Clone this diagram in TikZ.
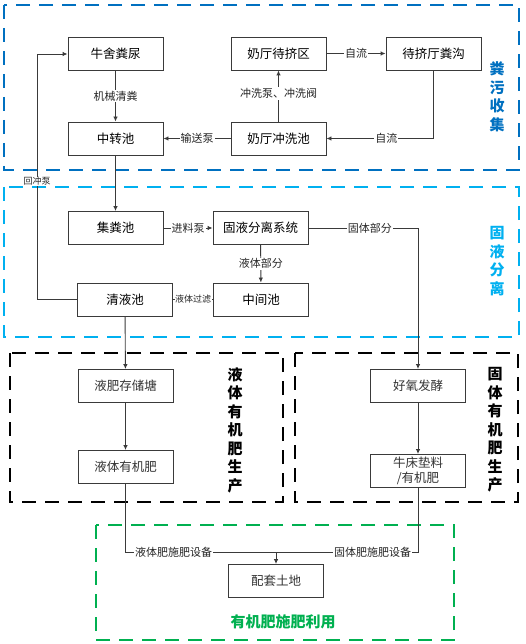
\documentclass[tikz,border=0pt]{standalone}
\usepackage{fontspec}
\setmainfont{Noto Sans CJK SC}
\usetikzlibrary{arrows.meta}
\definecolor{secblue}{HTML}{0070C0}
\definecolor{seccyan}{HTML}{00B0F0}
\definecolor{secgreen}{HTML}{00B050}
\definecolor{linegray}{HTML}{3A3A3A}
\begin{document}
\begin{tikzpicture}[x=1pt,y=-1pt,
  box/.style={draw=linegray, line width=0.9pt, minimum width=95pt, minimum height=33pt, inner sep=0pt, font=\fontsize{12.5}{14}\selectfont},
  lbox/.style={box, text=black!80},
  lbl/.style={fill=white, inner sep=1pt, font=\fontsize{11}{12}\selectfont, text=black!85},
  slbl/.style={fill=white, inner sep=0.5pt, font=\fontsize{9}{10}\selectfont, text=black!85},
  conn/.style={draw=linegray, line width=0.9pt},
  arr/.style={conn, -{Latex[length=5pt,width=4.5pt]}},
  sec/.style={line width=2.6pt, dash pattern=on 14pt off 9pt},
  vlbl/.style={align=center, inner sep=0pt, font=\fontsize{15}{18.5}\selectfont\bfseries}
]
\useasboundingbox (0,0) rectangle (525,644);

% section frames
\draw[sec, secblue] (4,5) rectangle (519,170);
\draw[sec, seccyan] (4,187) rectangle (519,337);
\draw[sec, black] (10,353) rectangle (283,502);
\draw[sec, black] (295,353) rectangle (518,502);
\draw[sec, secgreen] (96,525) rectangle (454,640);

% section labels
\node[vlbl, text=secblue] (s1) at (497,97) {粪\\污\\收\\集};
\node[vlbl, text=seccyan] (s2) at (497,261) {固\\液\\分\\离};
\node[vlbl, text=black] (s3) at (235,430) {液\\体\\有\\机\\肥\\生\\产};
\node[vlbl, text=black] (s4) at (495,430) {固\\体\\有\\机\\肥\\生\\产};
\node[font=\fontsize{15}{18}\selectfont\bfseries, text=secgreen] (s5) at (283,622) {有机肥施肥利用};

% nodes
\node[box] (A) at (115.5,54) {牛舍粪尿};
\node[box] (B) at (278.5,53.5) {奶厅待挤区};
\node[box] (C) at (433.5,53.5) {待挤厅粪沟};
\node[box] (D) at (115.5,138.5) {中转池};
\node[box] (E) at (278.5,138.5) {奶厅冲洗池};
\node[box] (F) at (115.5,228) {集粪池};
\node[box] (G) at (260.5,228) {固液分离系统};
\node[box] (H) at (125,299.5) {清液池};
\node[box] (I) at (261,299.5) {中间池};
\node[lbox] (J) at (125.5,386) {液肥存储塘};
\node[lbox] (K) at (125.5,467) {液体有机肥};
\node[lbox] (L) at (418,386) {好氧发酵};
\node[lbox, align=center, font=\fontsize{12.5}{15}\selectfont] (M) at (418,471) {牛床垫料\\/有机肥};
\node[lbox] (N) at (276,581) {配套土地};

% connectors
\draw[arr] (A) -- node[lbl]{机械清粪} (D);
\draw[arr] (E) -- node[lbl, pos=0.55]{冲洗泵、冲洗阀} (B);
\draw[arr] (B) -- node[lbl]{自流} (C);
\draw[arr] (C.south) |- node[lbl, pos=0.72]{自流} (E.east);
\draw[arr] (E) -- node[lbl]{输送泵} (D);
\draw[arr] (D) -- (F);
\draw[arr] (F) -- node[lbl]{进料泵} (G);
\draw[arr] (G.east) -| node[lbl, pos=0.28]{固体部分} (L.north);
\draw[arr] (G) -- node[lbl]{液体部分} (I);
\draw[conn] (I) -- node[slbl]{液体过滤} (H);
\coordinate (ret) at (37,299.5);
\draw[arr] (H.west) -- (ret) |- (A.west);
\node[slbl] (rl) at (37,181.5) {回冲泵};
\draw[arr] (H) -- (J);
\draw[arr] (J) -- (K);
\draw[arr] (L) -- (M);
\coordinate (jn) at (276,552);
\draw[conn] (K.south) |- node[lbl, pos=0.66]{液体肥施肥设备} (jn);
\draw[conn] (M.south) |- node[lbl, pos=0.66]{固体肥施肥设备} (jn);
\draw[arr] (jn) -- (N);
\end{tikzpicture}
\end{document}
